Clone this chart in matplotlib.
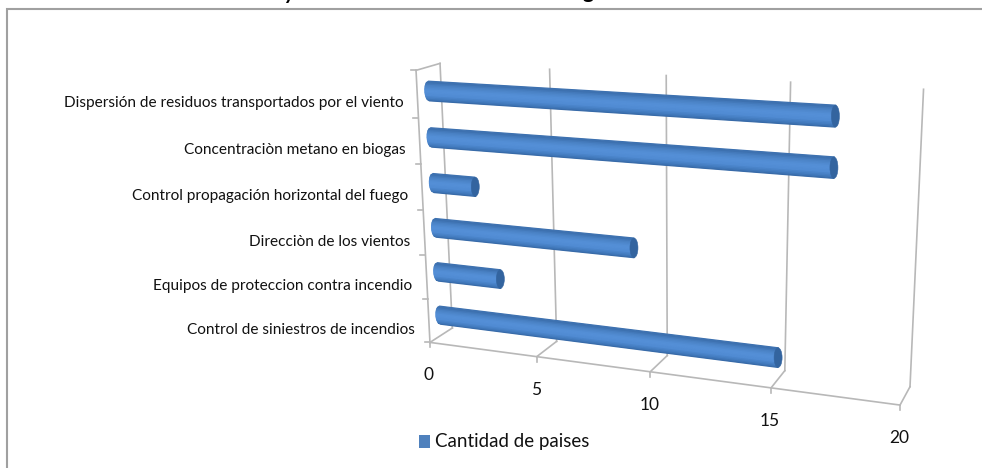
import numpy as np
import matplotlib
matplotlib.use("Agg")
import matplotlib.pyplot as plt
from matplotlib.collections import PolyCollection
from matplotlib.patches import Ellipse, Rectangle

plt.rcParams["font.family"] = ["Lato", "DejaVu Sans"]

# Chart data, listed from the bottom row to the top row
categories = [
    "Control de siniestros de incendios",
    "Equipos de proteccion contra incendio",
    "Direcciòn de los vientos",
    "Control propagación horizontal del fuego",
    "Concentraciòn metano en biogas",
    "Dispersión de residuos transportados por el viento",
]
values = [15, 3, 9, 2, 17, 17]
value_ticks = [0, 5, 10, 15, 20]
series_name = "Cantidad de paises"
value_max = 20

# Perspective camera for the 3D box: (value, depth, row) -> canvas pixels
calib_world = [
    (0, 0, 0), (5, 0, 0), (10, 0, 0), (15, 0, 0), (20, 0, 0),
    (0, 1, 0), (5, 1, 0), (10, 1, 0), (15, 1, 0), (20, 1, 0),
    (0, 1, 6), (5, 1, 6), (10, 1, 6), (15, 1, 6), (20, 1, 6),
    (0, 0, 6),
]
calib_pixel = [
    (430, 343), (537, 357), (650, 372), (771, 388), (900, 404),
    (452, 328), (557, 340), (667, 355), (785, 372), (910, 387),
    (440, 63), (550, 70), (666, 76), (790, 82), (924, 89),
    (416, 70),
]


def fit_camera(world, pixel):
    rows = []
    for (x, y, z), (u, v) in zip(world, pixel):
        x = x / value_max
        z = z / 6
        rows.append([x, y, z, 1, 0, 0, 0, 0, -u * x, -u * y, -u * z, -u])
        rows.append([0, 0, 0, 0, x, y, z, 1, -v * x, -v * y, -v * z, -v])
    return np.linalg.svd(np.array(rows, float))[2][-1].reshape(3, 4)


CAMERA = fit_camera(calib_world, calib_pixel)


def project(value, depth, row):
    q = CAMERA @ np.array([value / value_max, depth, row / 6, 1.0])
    return q[:2] / q[2]


fig = plt.figure(figsize=(9.82, 4.68), dpi=100)
ax = fig.add_axes([0, 0, 1, 1])
ax.set_xlim(0, 982)
ax.set_ylim(468, 0)
ax.axis("off")

# Outer chart frame: only the top and left edges fall on the canvas
frame_color = "#a0a0a0"
ax.plot([7, 7, 982], [468, 9, 9], color=frame_color, lw=1.5, solid_joinstyle="miter")

# Descenders of the title line, cut off by the top of the canvas
ax.text(290, -1, "y", fontsize=15, fontweight="bold", style="italic", ha="center", va="baseline", color="black")
ax.text(588, -2, "g", fontsize=15, fontweight="bold", ha="center", va="baseline", color="black")

grid_color = "#b8b8b8"
grid_lw = 1.2


def edge(a, b, **kw):
    p, q = project(*a), project(*b)
    ax.plot([p[0], q[0]], [p[1], q[1]], color=grid_color, lw=grid_lw, **kw)


# Walls and floor of the box
for tick in value_ticks:
    edge((tick, 0, 0), (tick, 1, 0))
    edge((tick, 1, 0), (tick, 1, 6))
    p = project(tick, 0, 0)
    ax.plot([p[0], p[0]], [p[1], p[1] + 5], color=grid_color, lw=grid_lw)
edge((0, 0, 0), (20, 0, 0))
edge((0, 0, 0), (0, 0, 6))
edge((0, 0, 6), (0, 1, 6))
for row in range(7):
    p = project(0, 0, row)
    ax.plot([p[0] - 5, p[0]], [p[1], p[1]], color=grid_color, lw=grid_lw)

# Cylinder shading from the lower edge (t=-1) to the upper edge (t=1)
shade_t = [-1.0, -0.75, -0.35, 0.15, 0.65, 1.0]
shade_rgb = np.array([
    (0x35, 0x66, 0xa2), (0x41, 0x79, 0xbc), (0x50, 0x8b, 0xd3),
    (0x55, 0x90, 0xd8), (0x49, 0x81, 0xc4), (0x3a, 0x6d, 0xab),
]) / 255
bar_depth = 0.4
bar_radius = 0.21
cap_width = 4.0
cap_shift = 1.0
start_shift = 2.0

for row, value in enumerate(values):
    center = row + 0.5
    polys, colors = [], []
    ts = np.linspace(-1, 1, 15)
    for t0, t1 in zip(ts[:-1], ts[1:]):
        bulge0 = cap_width * np.sqrt(max(0, 1 - t0 ** 2))
        bulge1 = cap_width * np.sqrt(max(0, 1 - t1 ** 2))
        a0 = project(0, bar_depth, center + bar_radius * t0) - (bulge0 - start_shift, 0)
        a1 = project(0, bar_depth, center + bar_radius * t1) - (bulge1 - start_shift, 0)
        b0 = project(value, bar_depth, center + bar_radius * t0) + (cap_shift, 0)
        b1 = project(value, bar_depth, center + bar_radius * t1) + (cap_shift, 0)
        polys.append([a0, b0, b1, a1])
        tm = (t0 + t1) / 2
        colors.append([np.interp(tm, shade_t, shade_rgb[:, c]) for c in range(3)])
    ax.add_collection(PolyCollection(polys, facecolors=colors, edgecolors=colors, linewidths=0.9, zorder=3))
    top = project(value, bar_depth, center + bar_radius)
    bottom = project(value, bar_depth, center - bar_radius)
    mid = (top + bottom) / 2 + (cap_shift, 0)
    ax.add_patch(Ellipse(mid, 2 * cap_width, abs(bottom[1] - top[1]), facecolor="#33649f",
                         edgecolor="#33649f", lw=0.4, zorder=4))

# Category labels, right-aligned against the slanted left wall
label_size = 11.1
for row, name in enumerate(categories):
    p = project(0, 0, row + 0.5)
    ax.text(p[0] - 14, p[1] + 9, name, ha="right", va="center", fontsize=label_size, color="#111111")

# Value labels below the front edge of the floor
for tick in value_ticks:
    p = project(tick, 0, 0)
    ax.text(p[0] - 1, p[1] + 33, str(tick), ha="center", va="center", fontsize=12.5, color="#111111")

# Legend
ax.add_patch(Rectangle((419, 435), 11, 13, facecolor="#4f81bd", edgecolor="none"))
ax.text(435, 442, series_name, ha="left", va="center", fontsize=13.5, color="#111111")

fig.savefig("out.png", dpi=100)
